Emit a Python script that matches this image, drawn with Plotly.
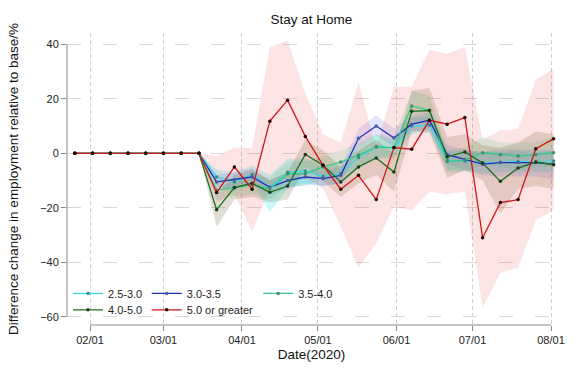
import plotly.graph_objects as go

dates = ['2020-01-26', '2020-02-02', '2020-02-09', '2020-02-16', '2020-02-23', '2020-03-01',
         '2020-03-08', '2020-03-15', '2020-03-22', '2020-03-29', '2020-04-05', '2020-04-12',
         '2020-04-19', '2020-04-26', '2020-05-03', '2020-05-10', '2020-05-17', '2020-05-24',
         '2020-05-31', '2020-06-07', '2020-06-14', '2020-06-21', '2020-06-28', '2020-07-05',
         '2020-07-12', '2020-07-19', '2020-07-26', '2020-08-02']

Z = [0, 0, 0, 0, 0, 0, 0, 0]

cyan_mean = Z + [-8.7, -10.5, -7.8, -12.5, -7, -6.5, -8.5, -7.5, -1.5, 2.5, 2.0, 10, 10.3,
                 -2.5, -2.8, -3.6, -3.3, -3.0, -3.3, -2.8]
cyan_lo = Z + [-12, -14, -11, -21.5, -13, -11, -12, -11, -5, -1.5, -1, 7, 7.5,
               -6, -6.5, -7.5, -7, -7, -7, -7]
cyan_hi = Z + [-6, -7, -4.5, -8, -2, -2, -5, -4, 2, 6.5, 5, 13, 13.5,
               1, 1, 0.5, 0.5, 1, 0.5, 1]

blue_mean = Z + [-10.5, -9.7, -8.7, -12.5, -10, -8.7, -9.3, -8.1, 5.5, 10, 5.6, 10.7, 12.1,
                 -0.5, -2.3, -4, -3.4, -3.4, -3.4, -4]
blue_lo = Z + [-13, -12.5, -12, -15, -13, -11.5, -12, -11, 2, 6.5, 2.5, 8, 9,
               -4, -6, -8, -8.5, -8.5, -8.5, -9.5]
blue_hi = Z + [-8, -7, -5.5, -10, -7, -6, -6.5, -5, 9, 14, 9, 13.5, 15,
               3, 1.5, 0.5, 1.5, 1.5, 1.5, 1]

teal_mean = Z + [-13.6, -12.6, -11.5, -13, -7.5, -7.5, -5, -3.2, -0.7, 2.3, 2.1, 17.4, 15.8,
                 -3, -2.5, 0.2, -0.5, -1.0, -0.5, 0.2]
teal_lo = Z + [-17, -16, -15, -17, -12, -12, -9, -8, -5, -2, -2, 12, 11,
               -7, -7, -4, -5, -6, -5, -5]
teal_hi = Z + [-10, -9, -8, -9, -3, -3, -1, 1, 4, 7, 6, 23, 21,
               1, 2, 6, 4, 4, 4, 6]

green_mean = Z + [-20.7, -12.6, -11, -14.3, -12, -0.4, -4.4, -10.5, -5, -1.7, -6.9, 15.4, 15.7,
                  -1.3, 0.5, -3.6, -10.3, -5.4, -3.2, -4.2]
green_lo = Z + [-27, -17, -16, -18, -17, -5, -10, -16, -11, -8, -14, 8, 8,
                -9, -6, -10, -22, -13, -12, -13]
green_hi = Z + [-15, -8, -6, -10, -7, 5, 1, -5, 1, 5, 0, 23, 24,
                6, 7, 3, 2, 4, 8, 7]

red_mean = Z + [-14.4, -5, -13.2, 11.8, 19.5, 6.2, -4.4, -13.2, -8.1, -17, 2.1, 1.5, 12.1,
                10.7, 13.1, -31, -18.1, -17, 1.7, 5.3]
red_lo = Z + [-18, -15, -28.5, -13, -9, -9, -13, -27, -42, -33, -19.5, -21, -14,
              -15, -14, -56.5, -44, -42, -24.5, -21]
red_hi = Z + [-1, 2, 2, 39, 41.3, 22, 7, 4, 26, 2, 24.5, 24.5, 38,
              36.5, 39, 5, 8.5, 9, 27, 31]

month_ticks = ['2020-02-01', '2020-03-01', '2020-04-01', '2020-05-01',
               '2020-06-01', '2020-07-01', '2020-08-01']
month_labels = ['02/01', '03/01', '04/01', '05/01', '06/01', '07/01', '08/01']
y_ticks = [-60, -40, -20, 0, 20, 40]

series = [
    ('2.5-3.0', cyan_mean, cyan_lo, cyan_hi, '#35DDE0', '#3a8a8a', 'rgba(0,230,235,0.22)', 'legend'),
    ('3.0-3.5', blue_mean, blue_lo, blue_hi, '#1F2DC0', '#4a5a9a', 'rgba(90,90,235,0.16)', 'legend2'),
    ('3.5-4.0', teal_mean, teal_lo, teal_hi, '#2FCB8C', '#4a8a6a', 'rgba(60,225,150,0.20)', 'legend3'),
    ('4.0-5.0', green_mean, green_lo, green_hi, '#1E6E1E', '#1a3a1a', 'rgba(115,105,60,0.22)', 'legend4'),
    ('5.0 or greater', red_mean, red_lo, red_hi, '#D01515', '#200000', 'rgba(245,90,90,0.16)', 'legend5'),
]

fig = go.Figure()

# bands
for name, m, lo, hi, lc, mc, fc, lg in series:
    fig.add_trace(go.Scatter(
        x=dates + dates[::-1], y=hi + lo[::-1], fill='toself', fillcolor=fc,
        line=dict(width=0), mode='lines', hoverinfo='skip', showlegend=False))

# lines
for name, m, lo, hi, lc, mc, fc, lg in series:
    fig.add_trace(go.Scatter(
        x=dates, y=m, name=name, mode='lines+markers', legend=lg,
        line=dict(color=lc, width=1.3),
        marker=dict(color=mc, size=3.5, symbol='circle')))

font_family = 'Liberation Sans, Arial, sans-serif'
leg_common = dict(orientation='h', xanchor='left', yanchor='middle', bgcolor='rgba(0,0,0,0)',
                  font=dict(size=11, color='#222', family=font_family), itemwidth=30,
                  borderwidth=0)
col_x = [0.002, 0.163, 0.391]
row_y = [0.108, 0.052]

fig.update_layout(
    width=576, height=384,
    margin=dict(l=67, r=20, t=33, b=59, autoexpand=False),
    paper_bgcolor='white', plot_bgcolor='white',
    font=dict(family=font_family, color='#222'),
    title=dict(text='Stay at Home', x=0.5, xanchor='center', y=0.95, yanchor='middle',
               xref='paper', font=dict(size=13.5, family=font_family, color='#111')),
    legend=dict(x=col_x[0], y=row_y[0], **leg_common),
    legend2=dict(x=col_x[1], y=row_y[0], **leg_common),
    legend3=dict(x=col_x[2], y=row_y[0], **leg_common),
    legend4=dict(x=col_x[0], y=row_y[1], **leg_common),
    legend5=dict(x=col_x[1], y=row_y[1], **leg_common),
    xaxis=dict(
        type='date', range=['2020-01-22 22:00', '2020-08-02 23:15'],
        tickvals=month_ticks, ticktext=month_labels, automargin=False,
        ticks='outside', ticklen=5, tickcolor='#888', tickwidth=1,
        showline=False, zeroline=False,
        showgrid=True, gridcolor='#cfcfcf', griddash='4px,3px', gridwidth=1,
        tickfont=dict(size=11, color='#222'),
        title=dict(text='Date(2020)', font=dict(size=13.5, color='#111'), standoff=4)),
    yaxis=dict(
        range=[-63.03, 44.16], tickvals=y_ticks, automargin=False,
        ticks='outside', ticklen=5, tickcolor='#888', tickwidth=1,
        showline=False, zeroline=False,
        showgrid=True, gridcolor='#d8d8d8', griddash='14px,22px', gridwidth=1,
        tickfont=dict(size=11, color='#222'),
        title=dict(text='Difference change in employment relative to base/%',
                   font=dict(size=13.5, color='#111'), standoff=18)),
)

# R-style axis lines spanning only the tick range
fig.add_shape(type='line', xref='paper', yref='y', x0=0, x1=0, y0=y_ticks[0], y1=y_ticks[-1],
              line=dict(color='#888', width=1))
fig.add_shape(type='line', xref='x', yref='paper', x0=month_ticks[0], x1=month_ticks[-1], y0=0, y1=0,
              line=dict(color='#888', width=1))

fig.write_html('out.html', config={'displayModeBar': False},
               post_script="document.body.style.margin='0';document.body.style.padding='0';")
